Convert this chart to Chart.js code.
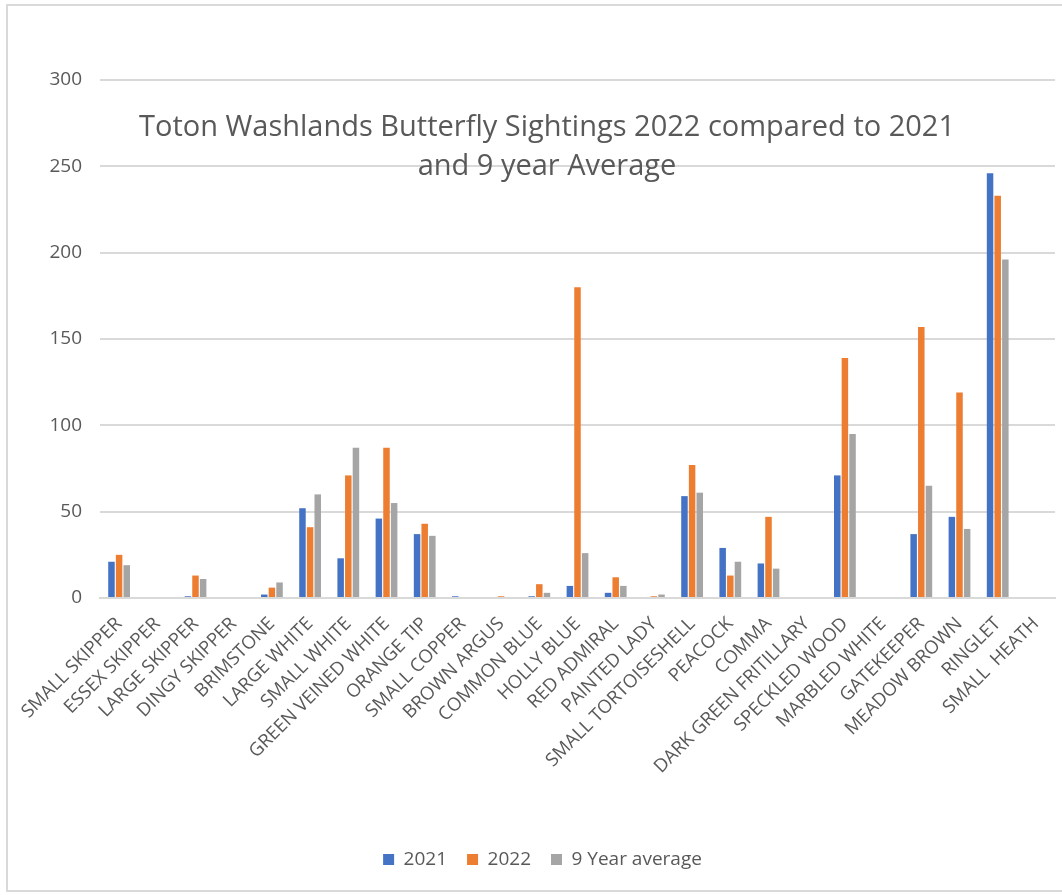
<!DOCTYPE html>
<html>
<head>
<meta charset="utf-8">
<title>Toton Washlands Butterfly Sightings</title>
<script src="https://cdn.jsdelivr.net/npm/chart.js@4/dist/chart.umd.min.js"></script>
<style>
    html, body { margin: 0; padding: 0; background: #fff; }
    #wrap { position: relative; width: 1062px; height: 895px; overflow: hidden; }
    #frame {
        position: absolute; left: 6px; top: 4px; width: 1080px; height: 888px;
        border: 2px solid #d9d9d9; box-sizing: border-box; pointer-events: none;
    }
    canvas { position: absolute; left: 0; top: 0; }
</style>
</head>
<body>
<div id="wrap">
    <canvas id="butterflyChart" width="1062" height="895"></canvas>
    <div id="frame"></div>
</div>
<script>
// species recorded on the washlands
const species = [
    "SMALL SKIPPER", "ESSEX SKIPPER", "LARGE SKIPPER", "DINGY SKIPPER", "BRIMSTONE",
    "LARGE WHITE", "SMALL WHITE", "GREEN VEINED WHITE", "ORANGE TIP", "SMALL COPPER",
    "BROWN ARGUS", "COMMON BLUE", "HOLLY BLUE", "RED ADMIRAL", "PAINTED LADY",
    "SMALL TORTOISESHELL", "PEACOCK", "COMMA", "DARK GREEN FRITILLARY", "SPECKLED WOOD",
    "MARBLED WHITE", "GATEKEEPER", "MEADOW BROWN", "RINGLET", "SMALL  HEATH"
];

const sightings2021 = [21, 0, 1, 0, 2, 52, 23, 46, 37, 1, 0, 1, 7, 3, 0, 59, 29, 20, 0, 71, 0, 37, 47, 246, 0];
const sightings2022 = [25, 0, 13, 0, 6, 41, 71, 87, 43, 0, 1, 8, 180, 12, 1, 77, 13, 47, 0, 139, 0, 157, 119, 233, 0];
const nineYearAvg   = [19, 0, 11, 0, 9, 60, 87, 55, 36, 0, 0, 3, 26, 7, 2, 61, 21, 17, 0, 95, 0, 65, 40, 196, 0];

const titleLines = ["Toton Washlands Butterfly Sightings 2022 compared to 2021", "and 9 year Average"];

const textGrey = "#595959";
const gridGrey = "#d9d9d9";

// title sits inside the plot, over the gridlines
const innerTitle = {
    id: "innerTitle",
    afterDraw(chart) {
        const { ctx, chartArea } = chart;
        const cx = chartArea.left + 447;
        ctx.save();
        ctx.fillStyle = textGrey;
        ctx.font = "29px 'Open Sans'";
        ctx.textAlign = "center";
        ctx.textBaseline = "middle";
        ctx.fillText(titleLines[0], cx, chartArea.top + 48);
        ctx.fillText(titleLines[1], cx, chartArea.top + 87);
        ctx.restore();
    }
};

function makeDataset(label, data, color) {
    return {
        label,
        data,
        backgroundColor: color,
        borderWidth: 0,
        barPercentage: 0.85,
        categoryPercentage: 0.6
    };
}

const ctx = document.getElementById("butterflyChart").getContext("2d");
new Chart(ctx, {
    type: "bar",
    data: {
        labels: species,
        datasets: [
            makeDataset("2021", sightings2021, "#4472c4"),
            makeDataset("2022", sightings2022, "#ed7d31"),
            makeDataset("9 Year average", nineYearAvg, "#a5a5a5")
        ]
    },
    options: {
        responsive: false,
        animation: false,
        layout: { padding: { left: 30, right: 7, top: 80, bottom: 16 } },
        plugins: {
            title: { display: false },
            tooltip: { enabled: false },
            legend: {
                position: "bottom",
                labels: {
                    color: textGrey,
                    font: { family: "'Open Sans'", size: 19 },
                    boxWidth: 11,
                    boxHeight: 11,
                    padding: 20
                }
            }
        },
        scales: {
            x: {
                grid: { display: false },
                border: { color: gridGrey, width: 2 },
                ticks: {
                    color: textGrey,
                    font: { family: "'Open Sans'", size: 18.5 },
                    minRotation: 45,
                    maxRotation: 45,
                    autoSkip: false,
                    padding: 7
                },
                afterFit(scale) { scale.height = 232; }
            },
            y: {
                min: 0,
                max: 300,
                border: { display: false },
                grid: { color: gridGrey, lineWidth: 2, drawTicks: false },
                ticks: {
                    stepSize: 50,
                    color: textGrey,
                    font: { family: "'Open Sans'", size: 19 },
                    padding: 18
                },
                afterFit(scale) { scale.width = 70; }
            }
        }
    },
    plugins: [innerTitle]
});
</script>
</body>
</html>
